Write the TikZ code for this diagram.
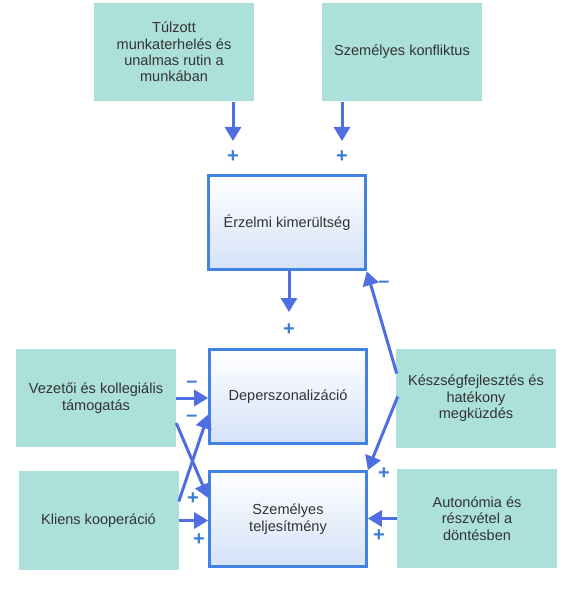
\documentclass[tikz,border=0pt]{standalone}
\usepackage{fontspec}
\setmainfont{Liberation Sans}
\usetikzlibrary{arrows.meta,calc}
\definecolor{teal1}{RGB}{172,224,218}
\definecolor{arrowc}{RGB}{78,110,226}
\definecolor{boxb}{RGB}{66,130,226}
\definecolor{signc}{RGB}{58,124,214}
\definecolor{txt}{RGB}{51,51,51}
\definecolor{boxbot}{RGB}{212,226,248}
\begin{document}
\begin{tikzpicture}[x=0.75pt,y=-0.75pt,
  tbox/.style={fill=teal1, minimum width=120pt, minimum height=74pt, align=center,
    text=txt, font=\fontsize{10.9}{12.3}\selectfont, inner sep=0pt},
  bbox/.style={draw=boxb, line width=2.25pt, top color=white, bottom color=boxbot,
    minimum width=117.5pt, minimum height=71pt, align=center,
    text=txt, font=\fontsize{10.9}{12.3}\selectfont, inner sep=0pt},
  arr/.style={draw=arrowc, line width=2.25pt, -{Triangle[length=10.5pt,width=12pt]}},
  sgn/.style={text=signc, font=\bfseries\fontsize{15}{15}\selectfont, inner sep=0pt}
]
\useasboundingbox (0,0) rectangle (575,591);

% nodes
\node[tbox] (tl) at (174,52) {Túlzott\\munkaterhelés és\\unalmas rutin a\\munkában};
\node[tbox] (tr) at (402,52) {Személyes konfliktus};
\node[bbox] (em) at (287,222.5) {Érzelmi kimerültség};
\node[bbox] (dp) at (288,396.5) {Deperszonalizáció};
\node[bbox] (st) at (288,519) {Személyes\\teljesítmény};
\node[tbox] (vz) at (96,398) {Vezetői és kollegiális\\támogatás};
\node[tbox] (kl) at (98.5,520.5) {Kliens kooperáció};
\node[tbox] (ks) at (476,398.5) {Készségfejlesztés és\\hatékony\\megküzdés};
\node[tbox] (au) at (477,518.5) {Autonómia és\\részvétel a\\döntésben};

% free arrow ends
\coordinate (e1) at (233,141);
\coordinate (e2) at (342,141);
\coordinate (e3) at (289,312);

% connectors
\draw[arr] (tl.south -| e1) -- (e1);
\draw[arr] (tr.south -| e2) -- (e2);
\draw[arr] (em.south -| e3) -- (e3);
\draw[arr] ($(ks.west)+(1,-25)$) -- (em.south east);
\draw[arr] ($(ks.west)+(2,-2)$) -- (st.north east);
\draw[arr] (au.west) -- (au.west -| st.east);
\draw[arr] (vz.east) -- (vz.east -| dp.west);
\draw[arr] ($(vz.east)+(0,25)$) -- ($(st.west)+(0,-21)$);
\draw[arr] ($(kl.east)+(0,-19)$) -- ($(dp.west)+(0,18)$);
\draw[arr] (kl.east) -- (kl.east -| st.west);

% signs
\node[sgn] (p1) at (233,157) {+};
\node[sgn] (p2) at (342,157) {+};
\node[sgn] (p3) at (289,330) {+};
\node[sgn] (m1) at (384,284) {–};
\node[sgn] (p4) at (384,474) {+};
\node[sgn] (p5) at (379,536) {+};
\node[sgn] (m2) at (192,384) {–};
\node[sgn] (m3) at (192,418) {–};
\node[sgn] (p6) at (193,499) {+};
\node[sgn] (p7) at (199,540) {+};
\end{tikzpicture}
\end{document}
